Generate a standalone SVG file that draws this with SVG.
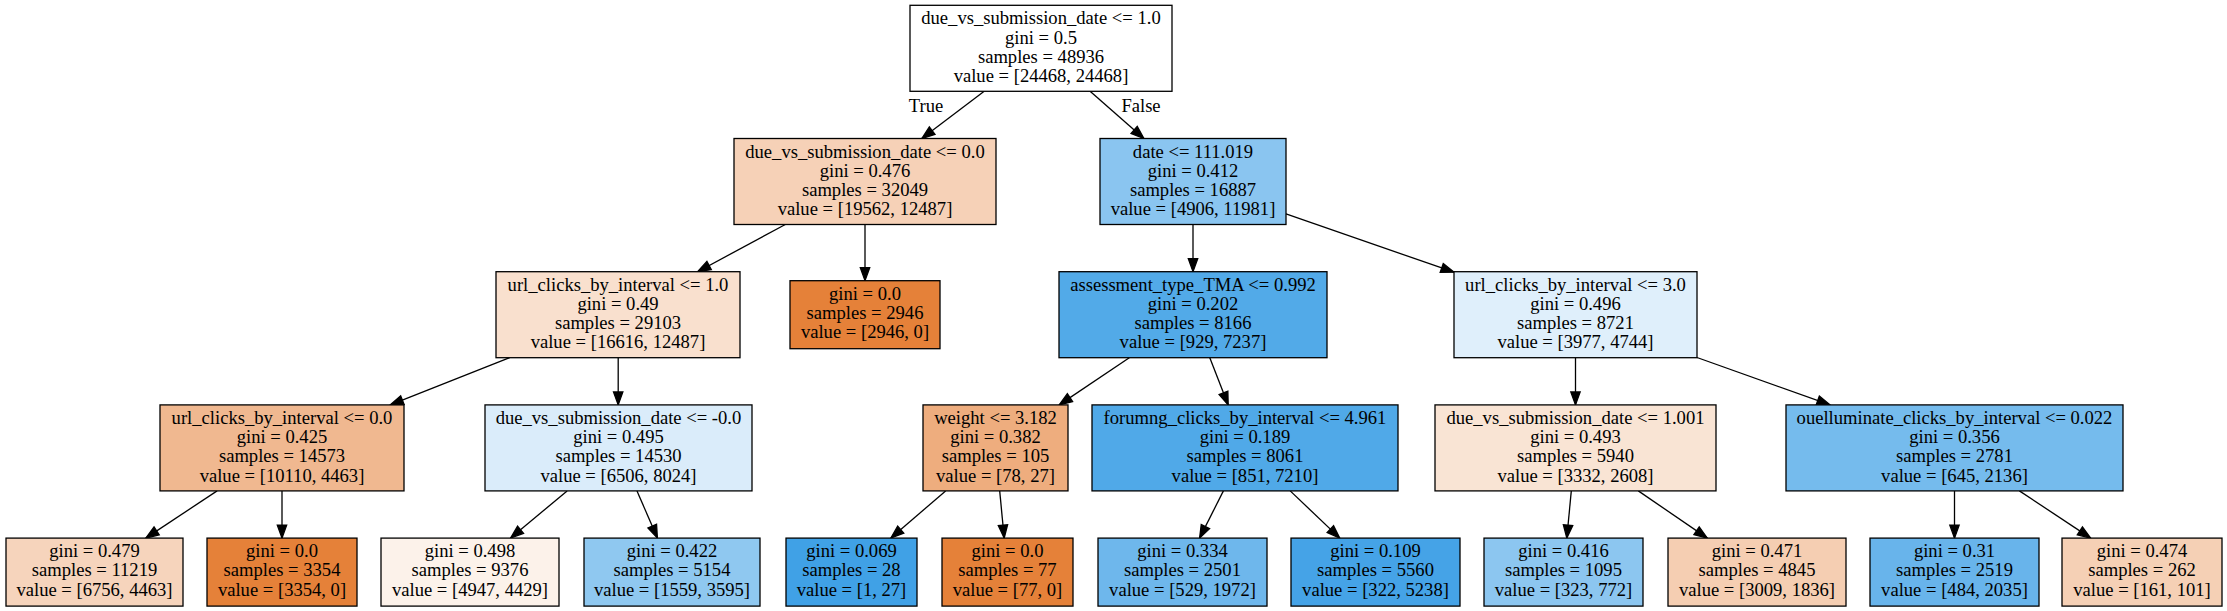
<svg xmlns="http://www.w3.org/2000/svg" width="2227" height="611" viewBox="0 0 2227 611">
<style>
.n rect{stroke:#000;stroke-width:1.3}
text{font-family:"Liberation Serif","Times New Roman",serif;font-size:18.6px;text-anchor:middle;fill:#000}
.e line{stroke:#000;stroke-width:1.3;marker-end:url(#ah)}
</style>
<defs>
<marker id="ah" markerUnits="userSpaceOnUse" markerWidth="16" markerHeight="12" refX="13" refY="4.7" orient="auto" overflow="visible">
<path d="M0,0 L13,4.7 L0,9.4 Z" fill="#000" stroke="#000" stroke-width="1.3"/>
</marker>
</defs>
<rect x="0" y="0" width="2227" height="611" fill="#fff"/>
<g id="edges" class="e">
<line x1="984.2" y1="91.3" x2="921.8" y2="138.5"/>
<line x1="1090.1" y1="91.3" x2="1143.9" y2="138.5"/>
<line x1="785.3" y1="224.5" x2="697.7" y2="271.7"/>
<line x1="865" y1="224.5" x2="865" y2="280.7"/>
<line x1="1193" y1="224.5" x2="1193" y2="271.7"/>
<line x1="1286" y1="213.9" x2="1454" y2="272.2"/>
<line x1="509.7" y1="357.7" x2="390.3" y2="404.9"/>
<line x1="618.2" y1="357.7" x2="618.2" y2="404.9"/>
<line x1="1129.3" y1="357.7" x2="1059.2" y2="404.9"/>
<line x1="1209.8" y1="357.7" x2="1228.2" y2="404.9"/>
<line x1="1575.5" y1="357.7" x2="1575.5" y2="404.9"/>
<line x1="1697" y1="357.5" x2="1830" y2="404.9"/>
<line x1="217.1" y1="490.9" x2="145.8" y2="538.1"/>
<line x1="282" y1="490.9" x2="282" y2="538.1"/>
<line x1="567.1" y1="490.9" x2="510.6" y2="538.1"/>
<line x1="637" y1="490.9" x2="657.4" y2="538.1"/>
<line x1="945.6" y1="490.9" x2="890.9" y2="538.1"/>
<line x1="999.7" y1="490.9" x2="1004.2" y2="538.1"/>
<line x1="1223.4" y1="490.9" x2="1199.6" y2="538.1"/>
<line x1="1290.2" y1="490.9" x2="1339.8" y2="538.1"/>
<line x1="1571.3" y1="490.9" x2="1566.8" y2="538.1"/>
<line x1="1638.3" y1="490.9" x2="1707.3" y2="538.1"/>
<line x1="1954.5" y1="490.9" x2="1954.5" y2="538.1"/>
<line x1="2019.4" y1="490.9" x2="2090.7" y2="538.1"/>
<text x="926" y="112">True</text>
<text x="1141" y="112">False</text>
</g>
<g id="n0" class="n"><rect x="910" y="5.3" width="262" height="86" fill="#ffffff"/>
<text x="1041" y="24.3">due_vs_submission_date &lt;= 1.0</text><text x="1041" y="43.5">gini = 0.5</text><text x="1041" y="62.7">samples = 48936</text><text x="1041" y="81.9">value = [24468, 24468]</text></g>
<g id="n1" class="n"><rect x="734" y="138.5" width="262" height="86" fill="#f6d1b7"/>
<text x="865" y="157.5">due_vs_submission_date &lt;= 0.0</text><text x="865" y="176.7">gini = 0.476</text><text x="865" y="195.9">samples = 32049</text><text x="865" y="215.1">value = [19562, 12487]</text></g>
<g id="n2" class="n"><rect x="1100" y="138.5" width="186" height="86" fill="#8ac5f0"/>
<text x="1193" y="157.5">date &lt;= 111.019</text><text x="1193" y="176.7">gini = 0.412</text><text x="1193" y="195.9">samples = 16887</text><text x="1193" y="215.1">value = [4906, 11981]</text></g>
<g id="n3" class="n"><rect x="496" y="271.7" width="244" height="86" fill="#f9e0ce"/>
<text x="618" y="290.7">url_clicks_by_interval &lt;= 1.0</text><text x="618" y="309.9">gini = 0.49</text><text x="618" y="329.1">samples = 29103</text><text x="618" y="348.3">value = [16616, 12487]</text></g>
<g id="n4" class="n"><rect x="790" y="280.7" width="150" height="68" fill="#e58139"/>
<text x="865" y="299.7">gini = 0.0</text><text x="865" y="318.9">samples = 2946</text><text x="865" y="338.1">value = [2946, 0]</text></g>
<g id="n5" class="n"><rect x="1059" y="271.7" width="268" height="86" fill="#52aae8"/>
<text x="1193" y="290.7">assessment_type_TMA &lt;= 0.992</text><text x="1193" y="309.9">gini = 0.202</text><text x="1193" y="329.1">samples = 8166</text><text x="1193" y="348.3">value = [929, 7237]</text></g>
<g id="n6" class="n"><rect x="1454" y="271.7" width="243" height="86" fill="#dfeffb"/>
<text x="1575.5" y="290.7">url_clicks_by_interval &lt;= 3.0</text><text x="1575.5" y="309.9">gini = 0.496</text><text x="1575.5" y="329.1">samples = 8721</text><text x="1575.5" y="348.3">value = [3977, 4744]</text></g>
<g id="n7" class="n"><rect x="160" y="404.9" width="244" height="86" fill="#f0b890"/>
<text x="282" y="423.9">url_clicks_by_interval &lt;= 0.0</text><text x="282" y="443.1">gini = 0.425</text><text x="282" y="462.3">samples = 14573</text><text x="282" y="481.5">value = [10110, 4463]</text></g>
<g id="n8" class="n"><rect x="485" y="404.9" width="267" height="86" fill="#daecfa"/>
<text x="618.5" y="423.9">due_vs_submission_date &lt;= -0.0</text><text x="618.5" y="443.1">gini = 0.495</text><text x="618.5" y="462.3">samples = 14530</text><text x="618.5" y="481.5">value = [6506, 8024]</text></g>
<g id="n9" class="n"><rect x="923" y="404.9" width="145" height="86" fill="#eead7e"/>
<text x="995.5" y="423.9">weight &lt;= 3.182</text><text x="995.5" y="443.1">gini = 0.382</text><text x="995.5" y="462.3">samples = 105</text><text x="995.5" y="481.5">value = [78, 27]</text></g>
<g id="n10" class="n"><rect x="1092" y="404.9" width="306" height="86" fill="#50a9e8"/>
<text x="1245" y="423.9">forumng_clicks_by_interval &lt;= 4.961</text><text x="1245" y="443.1">gini = 0.189</text><text x="1245" y="462.3">samples = 8061</text><text x="1245" y="481.5">value = [851, 7210]</text></g>
<g id="n11" class="n"><rect x="1435" y="404.9" width="281" height="86" fill="#f9e4d4"/>
<text x="1575.5" y="423.9">due_vs_submission_date &lt;= 1.001</text><text x="1575.5" y="443.1">gini = 0.493</text><text x="1575.5" y="462.3">samples = 5940</text><text x="1575.5" y="481.5">value = [3332, 2608]</text></g>
<g id="n12" class="n"><rect x="1786" y="404.9" width="337" height="86" fill="#75bbed"/>
<text x="1954.5" y="423.9">ouelluminate_clicks_by_interval &lt;= 0.022</text><text x="1954.5" y="443.1">gini = 0.356</text><text x="1954.5" y="462.3">samples = 2781</text><text x="1954.5" y="481.5">value = [645, 2136]</text></g>
<g id="n13" class="n"><rect x="6" y="538.1" width="177" height="68" fill="#f6d4bc"/>
<text x="94.5" y="557.1">gini = 0.479</text><text x="94.5" y="576.3">samples = 11219</text><text x="94.5" y="595.5">value = [6756, 4463]</text></g>
<g id="n14" class="n"><rect x="207" y="538.1" width="150" height="68" fill="#e58139"/>
<text x="282" y="557.1">gini = 0.0</text><text x="282" y="576.3">samples = 3354</text><text x="282" y="595.5">value = [3354, 0]</text></g>
<g id="n15" class="n"><rect x="381" y="538.1" width="178" height="68" fill="#fcf2ea"/>
<text x="470" y="557.1">gini = 0.498</text><text x="470" y="576.3">samples = 9376</text><text x="470" y="595.5">value = [4947, 4429]</text></g>
<g id="n16" class="n"><rect x="584" y="538.1" width="176" height="68" fill="#8fc8f0"/>
<text x="672" y="557.1">gini = 0.422</text><text x="672" y="576.3">samples = 5154</text><text x="672" y="595.5">value = [1559, 3595]</text></g>
<g id="n17" class="n"><rect x="786" y="538.1" width="131" height="68" fill="#40a1e6"/>
<text x="851.5" y="557.1">gini = 0.069</text><text x="851.5" y="576.3">samples = 28</text><text x="851.5" y="595.5">value = [1, 27]</text></g>
<g id="n18" class="n"><rect x="942" y="538.1" width="131" height="68" fill="#e58139"/>
<text x="1007.5" y="557.1">gini = 0.0</text><text x="1007.5" y="576.3">samples = 77</text><text x="1007.5" y="595.5">value = [77, 0]</text></g>
<g id="n19" class="n"><rect x="1098" y="538.1" width="169" height="68" fill="#6eb7ec"/>
<text x="1182.5" y="557.1">gini = 0.334</text><text x="1182.5" y="576.3">samples = 2501</text><text x="1182.5" y="595.5">value = [529, 1972]</text></g>
<g id="n20" class="n"><rect x="1291" y="538.1" width="169" height="68" fill="#45a3e7"/>
<text x="1375.5" y="557.1">gini = 0.109</text><text x="1375.5" y="576.3">samples = 5560</text><text x="1375.5" y="595.5">value = [322, 5238]</text></g>
<g id="n21" class="n"><rect x="1484" y="538.1" width="159" height="68" fill="#8cc6f0"/>
<text x="1563.5" y="557.1">gini = 0.416</text><text x="1563.5" y="576.3">samples = 1095</text><text x="1563.5" y="595.5">value = [323, 772]</text></g>
<g id="n22" class="n"><rect x="1668" y="538.1" width="178" height="68" fill="#f5ceb2"/>
<text x="1757" y="557.1">gini = 0.471</text><text x="1757" y="576.3">samples = 4845</text><text x="1757" y="595.5">value = [3009, 1836]</text></g>
<g id="n23" class="n"><rect x="1870" y="538.1" width="169" height="68" fill="#68b4eb"/>
<text x="1954.5" y="557.1">gini = 0.31</text><text x="1954.5" y="576.3">samples = 2519</text><text x="1954.5" y="595.5">value = [484, 2035]</text></g>
<g id="n24" class="n"><rect x="2062" y="538.1" width="160" height="68" fill="#f5d0b5"/>
<text x="2142" y="557.1">gini = 0.474</text><text x="2142" y="576.3">samples = 262</text><text x="2142" y="595.5">value = [161, 101]</text></g>
</svg>
